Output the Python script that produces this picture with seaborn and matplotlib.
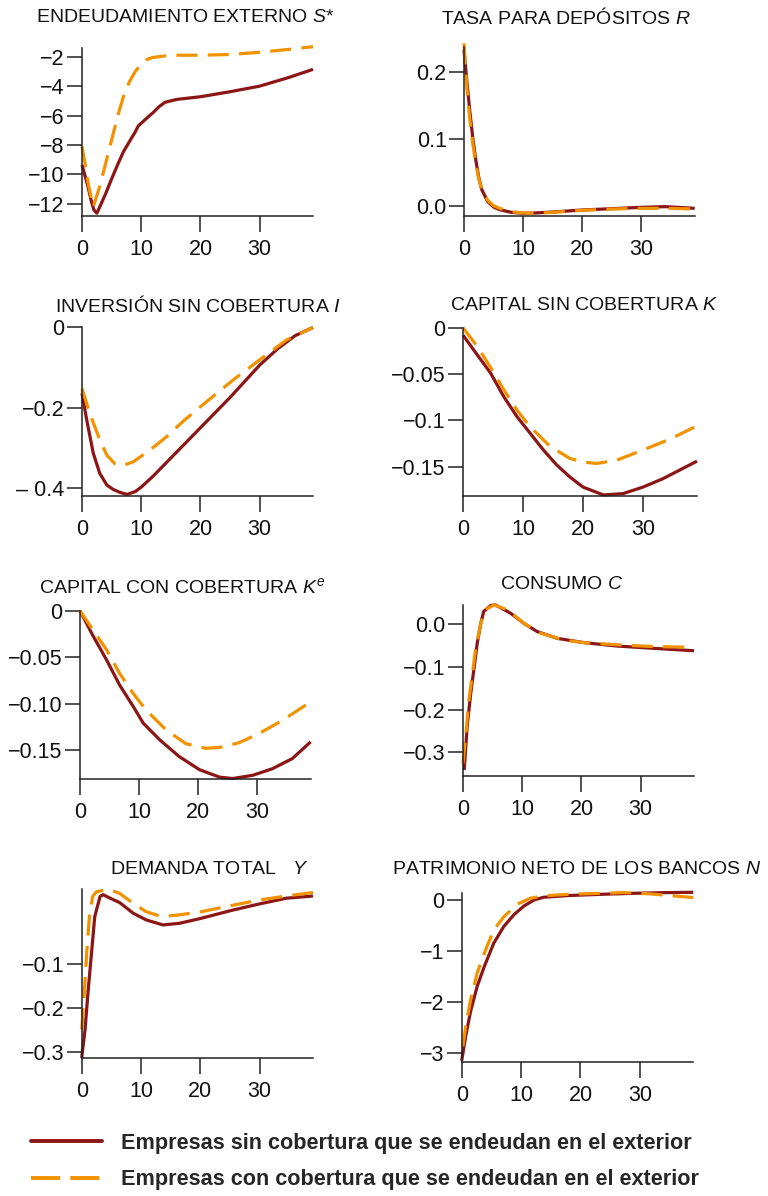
import matplotlib
matplotlib.use("Agg")
import matplotlib.pyplot as plt
from matplotlib.lines import Line2D
import seaborn as sns

sns.set_theme(style="ticks")
plt.rcParams['font.family'] = ['Liberation Sans', 'DejaVu Sans']
plt.rcParams['mathtext.fontset'] = 'custom'
plt.rcParams['mathtext.rm'] = 'Liberation Sans'
plt.rcParams['mathtext.it'] = 'Liberation Sans:italic'

RED = '#8C1515'
ORANGE = '#F39200'

# ---------------- data ----------------
# Panel 1: Endeudamiento externo S*
s_t_red = [0, 1, 1.5, 2, 2.5, 3, 4, 5, 6, 7, 8, 9, 9.5, 11, 12, 13, 14, 16, 20, 25, 30, 35, 39]
s_red = [-9.35, -10.8, -11.7, -12.4, -12.63, -12.2, -11.3, -10.3, -9.35, -8.45, -7.77, -7.1, -6.7,
         -6.15, -5.8, -5.4, -5.1, -4.9, -4.72, -4.38, -4.0, -3.4, -2.86]
s_t_or = [0, 0.5, 1, 1.5, 1.9, 3, 4, 5, 6, 7, 8, 9, 10, 11, 12, 15, 20, 25, 30, 35, 39]
s_or = [-8.1, -9.2, -10.5, -11.5, -12.2, -10.8, -9.24, -7.66, -6.07, -4.7, -3.7, -3.0, -2.5,
        -2.18, -2.05, -1.9, -1.9, -1.85, -1.7, -1.5, -1.32]

# Panel 2: Tasa para depósitos R
r_t = [0, 0.5, 1, 1.5, 2, 2.5, 3, 4, 5, 6, 8, 10, 12, 15, 20, 25, 30, 34, 39]
r_red = [0.233, 0.185, 0.140, 0.100, 0.068, 0.042, 0.024, 0.006, -0.002, -0.006, -0.010, -0.0115,
         -0.011, -0.0095, -0.0065, -0.0045, -0.0025, -0.0015, -0.004]
r_or = [0.243, 0.175, 0.128, 0.092, 0.062, 0.040, 0.024, 0.008, 0.000, -0.004, -0.009, -0.011,
        -0.0115, -0.010, -0.007, -0.005, -0.004, -0.004, -0.005]

# Panel 3: Inversión sin cobertura I
i_t_red = [0, 0.8, 1.9, 3, 4.2, 5.3, 6.4, 7.6, 9, 10, 12, 15, 20, 25, 30, 33, 36, 39]
i_red = [-0.165, -0.231, -0.313, -0.363, -0.392, -0.403, -0.410, -0.415, -0.408, -0.397, -0.370,
         -0.325, -0.250, -0.175, -0.095, -0.055, -0.022, -0.002]
i_t_or = [0, 1.3, 3, 4.2, 5.6, 6.8, 8.7, 11.5, 14.3, 17, 20, 25.5, 30, 34.5, 39]
i_or = [-0.153, -0.214, -0.280, -0.318, -0.340, -0.344, -0.334, -0.305, -0.272, -0.235, -0.198,
        -0.132, -0.082, -0.033, -0.002]

# Panel 4: Capital sin cobertura K
k_t_red = [0, 2.4, 4.6, 6.8, 9, 11.2, 13.4, 15.6, 17.8, 20, 23.4, 26.7, 30, 33.3, 36.6, 39]
k_red = [-0.008, -0.0295, -0.049, -0.0745, -0.096, -0.114, -0.132, -0.148, -0.161, -0.172,
         -0.1805, -0.179, -0.172, -0.163, -0.152, -0.144]
k_t_or = [0, 2.4, 4.6, 6.8, 9, 11.2, 14.5, 17.8, 20, 22.3, 25.6, 30, 34.4, 39]
k_or = [0.0, -0.0205, -0.043, -0.067, -0.089, -0.107, -0.128, -0.141, -0.145, -0.1465, -0.143,
        -0.132, -0.1205, -0.106]

# Panel 5: Capital con cobertura Ke
ke_t_red = [0, 2.2, 4.5, 6.7, 9, 10.7, 13.5, 16.8, 20.2, 23.6, 25.8, 29.2, 32.5, 35.9, 39]
ke_red = [0.0, -0.027, -0.053, -0.080, -0.103, -0.121, -0.139, -0.157, -0.171, -0.179, -0.1805,
          -0.177, -0.170, -0.159, -0.141]
ke_t_or = [0, 2.2, 4.5, 6.7, 9, 11.2, 14.6, 17.9, 21.3, 23.6, 26.9, 30.3, 34.2, 39]
ke_or = [0.0, -0.0208, -0.042, -0.0675, -0.089, -0.107, -0.1285, -0.143, -0.148, -0.147, -0.142,
         -0.132, -0.118, -0.098]

# Panel 6: Consumo C
c_t_red = [0.2, 0.7, 1.3, 1.9, 2.4, 3, 3.5, 4.7, 5.5, 8, 10.3, 12.5, 15.9, 20.4, 26, 31.7, 39]
c_red = [-0.341, -0.24, -0.162, -0.099, -0.0445, 0.002, 0.030, 0.044, 0.045, 0.026, 0.002,
         -0.017, -0.033, -0.043, -0.051, -0.056, -0.062]
c_t_or = [0, 0.5, 1, 1.6, 2.1, 3, 3.8, 5.2, 7.5, 10.3, 13.1, 17, 20.4, 26, 31.7, 39]
c_or = [-0.326, -0.255, -0.177, -0.115, -0.06, 0.002, 0.034, 0.045, 0.034, 0.002, -0.021,
        -0.037, -0.043, -0.048, -0.052, -0.054]

# Panel 7: Demanda total Y
y_t_red = [0, 0.56, 1.1, 1.7, 2.2, 3.1, 3.6, 4.8, 6.4, 8.7, 10.9, 13.7, 16.5, 20.1, 25.5, 30, 34.5, 39]
y_red = [-0.314, -0.25, -0.159, -0.068, 0.008, 0.054, 0.058, 0.050, 0.040, 0.0156, 0.0004,
         -0.011, -0.0072, 0.004, 0.023, 0.037, 0.050, 0.055]
y_t_or = [0, 0.4, 0.84, 1.3, 1.85, 2.5, 3.4, 4.8, 6.4, 8.7, 10.9, 13.5, 16.5, 20.1, 25.5, 30, 34.5, 39]
y_or = [-0.249, -0.1745, -0.0757, 0.008, 0.054, 0.065, 0.067, 0.069, 0.061, 0.038, 0.019,
        0.008, 0.012, 0.019, 0.034, 0.046, 0.055, 0.063]

# Panel 8: Patrimonio neto de los bancos N
n_t_red = [0, 0.67, 1.5, 2.6, 3.8, 5.4, 7.1, 8.8, 10.5, 12.2, 13.8, 17.8, 23.4, 29, 34.6, 39]
n_red = [-3.16, -2.68, -2.19, -1.70, -1.31, -0.85, -0.52, -0.29, -0.118, 0.0, 0.052, 0.085,
         0.11, 0.13, 0.144, 0.15]
n_t_or = [0.2, 0.67, 1.5, 2.6, 3.8, 5.4, 7.1, 9.4, 11.6, 13.8, 17.8, 23.4, 27.3, 31.8, 35.7, 39]
n_or = [-2.88, -2.49, -1.96, -1.44, -1.05, -0.59, -0.33, -0.08, 0.033, 0.079, 0.11, 0.13,
        0.144, 0.118, 0.079, 0.046]

titles = [
    "ENDEUDAMIENTO EXTERNO $\\mathit{S}$*",
    "TASA PARA DEPÓSITOS $\\mathit{R}$",
    "INVERSIÓN SIN COBERTURA $\\mathit{I}$",
    "CAPITAL SIN COBERTURA $\\mathit{K}$",
    "CAPITAL CON COBERTURA $\\mathit{K}^{\\mathit{e}}$",
    "CONSUMO $\\mathit{C}$",
    "DEMANDA TOTAL   $\\mathit{Y}$",
    "PATRIMONIO NETO DE LOS BANCOS $\\mathit{N}$",
]

xticks = [0, 10, 20, 30]
xticklabels = ["0", "10", "20", "30"]

yticks = [
    [-2, -4, -6, -8, -10, -12],
    [0.2, 0.1, 0.0],
    [0, -0.2, -0.4],
    [0, -0.05, -0.1, -0.15],
    [0, -0.05, -0.10, -0.15],
    [0.0, -0.1, -0.2, -0.3],
    [-0.1, -0.2, -0.3],
    [0, -1, -2, -3],
]
yticklabels = [
    ["−2", "−4", "−6", "−8", "−10", "−12"],
    ["0.2", "0.1", "0.0"],
    ["0", "−0.2", "– 0.4"],
    ["0", "−0.05", "−0.1", "−0.15"],
    ["0", "−0.05", "−0.10", "−0.15"],
    ["0.0", "−0.1", "−0.2", "−0.3"],
    ["−0.1", "−0.2", "−0.3"],
    ["0", "−1", "−2", "−3"],
]
ylims = [(-12.82, -1.43), (-0.0155, 0.238), (-0.419, 0.0), (-0.1813, 0.0),
         (-0.181, 0.0), (-0.355, 0.045), (-0.3137, 0.0703), (-3.18, 0.13)]

series = [
    (s_t_red, s_red, s_t_or, s_or),
    (r_t, r_red, r_t, r_or),
    (i_t_red, i_red, i_t_or, i_or),
    (k_t_red, k_red, k_t_or, k_or),
    (ke_t_red, ke_red, ke_t_or, ke_or),
    (c_t_red, c_red, c_t_or, c_or),
    (y_t_red, y_red, y_t_or, y_or),
    (n_t_red, n_red, n_t_or, n_or),
]

legend_labels = ["Empresas sin cobertura que se endeudan en el exterior",
                 "Empresas con cobertura que se endeudan en el exterior"]

# ---------------- layout (pixels) ----------------
W, H = 768, 1196
boxes = [  # left, right, top, bottom
    (82, 313, 48.3, 216),
    (464, 694.7, 46.7, 216),
    (82, 313, 326.7, 496),
    (463, 697, 327.7, 495.7),
    (80, 310.7, 610.7, 779),
    (463, 694, 605, 776),
    (81.7, 313, 889.3, 1057.7),
    (461.7, 693.3, 893.3, 1061.7),
]
title_pos = [(185, 17), (565.5, 17), (198, 305), (584, 305),
             (182, 587), (561.5, 585), (209, 869), (577, 869)]

fig = plt.figure(figsize=(W / 100, H / 100), dpi=100)

for k in range(8):
    l, r, t, b = boxes[k]
    ax = fig.add_axes([l / W, 1 - b / H, (r - l) / W, (b - t) / H])
    tr, vr, to, vo = series[k]
    sns.lineplot(x=tr, y=vr, ax=ax, color=RED, linewidth=2.3, sort=False)
    sns.lineplot(x=to, y=vo, ax=ax, color=ORANGE, linewidth=2.3, sort=False)
    ax.lines[-1].set_dashes([6.6, 3.2])
    for ln in ax.lines:
        ln.set_clip_on(False)
        ln.set_solid_capstyle('butt')
        ln.set_dash_capstyle('butt')
    ax.set_xlim(0, 39)
    ax.set_ylim(*ylims[k])
    ax.set_xticks(xticks)
    ax.set_xticklabels(xticklabels)
    ax.set_yticks(yticks[k])
    ax.set_yticklabels(yticklabels[k])
    ax.set_xlabel("")
    ax.set_ylabel("")
    sns.despine(ax=ax)
    for sp in ('left', 'bottom'):
        ax.spines[sp].set_linewidth(1.1)
        ax.spines[sp].set_color('#222222')
    ax.tick_params(axis='both', width=1.1, color='#222222',
                   labelsize=15.5, labelcolor='#111111', direction='out')
    ax.tick_params(axis='y', length=10.5, pad=2)
    ax.tick_params(axis='x', length=11.5, pad=5)
    ax.patch.set_alpha(0)
    fig.text(title_pos[k][0] / W, 1 - title_pos[k][1] / H, titles[k],
             ha='center', va='center', fontsize=14, color='#111111')

handles = [Line2D([], [], color=RED, linewidth=2.8),
           Line2D([], [], color=ORANGE, linewidth=2.8, dashes=[7.5, 2.6])]
fig.legend(handles, legend_labels, loc='center left',
           bbox_to_anchor=(22 / W, 1 - 1161.5 / H), frameon=False,
           prop={'family': ['Liberation Sans Narrow', 'Liberation Sans'], 'weight': 'bold', 'size': 15.6},
           handlelength=3.3, handletextpad=0.85, labelspacing=0.7, borderaxespad=0)

fig.savefig("out.png", dpi=100)
